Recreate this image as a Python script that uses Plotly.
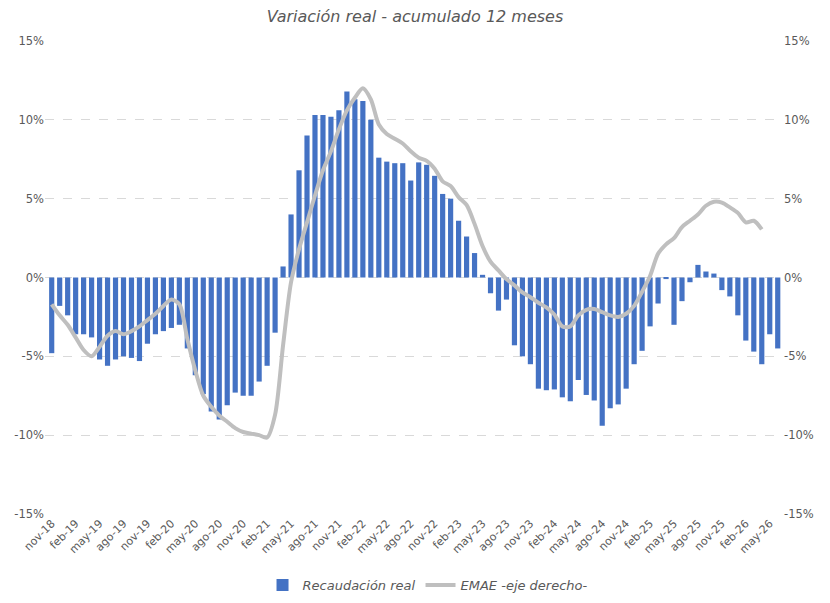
import plotly.graph_objects as go

months_es = ["ene", "feb", "mar", "abr", "may", "jun", "jul", "ago", "sep", "oct", "nov", "dic"]
# Monthly categories nov-18 .. jun-26
categories = []
y, m = 2018, 10
for _ in range(92):
    categories.append(f"{months_es[m]}-{str(y)[2:]}")
    m += 1
    if m == 12:
        m = 0
        y += 1

recaudacion = [
    -4.8, -1.8, -2.4, -3.6, -3.6, -3.8, -5.2, -5.6, -5.2, -5.0,
    -5.1, -5.3, -4.2, -3.6, -3.4, -3.2, -3.0, -4.5, -6.2, -7.4,
    -8.5, -9.0, -8.1, -7.3, -7.5, -7.5, -6.6, -5.6, -3.5, 0.7,
    4.0, 6.8, 9.0, 10.3, 10.3, 10.2, 10.6, 11.8, 11.3, 11.2,
    10.0, 7.6, 7.35, 7.25, 7.25, 6.15, 7.3, 7.15, 6.45, 5.3,
    5.0, 3.6, 2.6, 1.55, 0.17, -1.0, -2.1, -1.4, -4.3, -5.0,
    -5.5, -7.05, -7.15, -7.1, -7.6, -7.85, -6.5, -7.45, -7.8, -9.4,
    -8.3, -8.05, -7.05, -5.5, -4.65, -3.1, -1.65, -0.1, -3.0, -1.5,
    -0.3, 0.8, 0.38, 0.25, -0.8, -1.2, -2.4, -4.0, -4.7, -5.5,
    -3.6, -4.5,
]

emae = [
    -1.7, -2.4, -3.0, -3.8, -4.6, -5.0, -4.4, -3.7, -3.4, -3.6,
    -3.4, -3.1, -2.7, -2.3, -1.8, -1.4, -1.7, -3.9, -5.9, -7.5,
    -8.2, -8.75, -9.15, -9.55, -9.8, -9.9, -10.0, -10.15, -8.7, -4.3,
    -0.3, 1.8, 3.5, 5.2, 6.8, 8.0, 9.4, 10.6, 11.4, 12.0,
    11.3, 9.7, 9.1, 8.8, 8.5, 8.0, 7.6, 7.4, 6.9, 6.1,
    5.8, 5.1, 4.6, 3.4, 2.0, 1.0, 0.45, -0.1, -0.5, -0.95,
    -1.25, -1.6, -1.9, -2.35, -3.1, -3.1, -2.4, -2.05, -2.0, -2.2,
    -2.4, -2.5, -2.3, -1.8, -0.9, 0.1, 1.5, 2.1, 2.5, 3.2,
    3.6, 4.0, 4.55, 4.8, 4.75, 4.45, 4.1, 3.5, 3.6, 3.05,
    None, None,
]

y_ticks = [-15, -10, -5, 0, 5, 10, 15]
y_ticktext = [f"{v}%" for v in y_ticks]

x = list(range(len(categories)))
tickvals = x[::3]
ticktext = categories[::3]

FONT = "DejaVu Sans"
GRAY = "#595959"

fig = go.Figure()
fig.add_trace(go.Bar(
    x=x, y=recaudacion, name="Recaudación real",
    marker=dict(color="#4472C4", line=dict(width=0)),
    yaxis="y",
))
fig.add_trace(go.Scatter(
    x=x, y=emae, name="EMAE -eje derecho-",
    mode="lines", line=dict(color="#BFBFBF", width=4, shape="spline", smoothing=0.8),
    yaxis="y2", connectgaps=False,
))

fig.update_layout(
    width=830, height=603,
    margin=dict(l=45, r=47, t=41, b=89, autoexpand=False),
    plot_bgcolor="white", paper_bgcolor="white",
    bargap=0.35,
    title=dict(text="Variación real - acumulado 12 meses", x=0.5, xanchor="center",
               y=0.972, yanchor="middle",
               font=dict(family=FONT, size=16, color=GRAY, style="italic")),
    xaxis=dict(
        range=[-0.84, 91.66], tickmode="array", tickvals=tickvals, ticktext=ticktext,
        tickangle=-45, tickfont=dict(family=FONT, size=11, color=GRAY),
        showgrid=False, zeroline=False, showline=False, ticks="", automargin=False,
    ),
    yaxis=dict(
        range=[-15, 15], tickmode="array", tickvals=y_ticks, ticktext=y_ticktext,
        tickfont=dict(family=FONT, size=11.5, color=GRAY),
        showgrid=True, gridcolor="#D9D9D9", griddash="dash", gridwidth=1,
        zeroline=False, showline=False, ticks="", automargin=False,
    ),
    yaxis2=dict(
        range=[-15, 15], tickmode="array", tickvals=y_ticks, ticktext=y_ticktext,
        tickfont=dict(family=FONT, size=11.5, color=GRAY),
        overlaying="y", side="right", showgrid=False, zeroline=False, showline=False,
        ticks="", automargin=False,
    ),
    legend=dict(
        orientation="h", x=0.519, xanchor="center", y=-0.15, yanchor="middle",
        font=dict(family=FONT, size=13, color=GRAY, style="italic"),
        bgcolor="rgba(0,0,0,0)", itemwidth=30,
    ),
    showlegend=True,
)

fig.write_html("out.html")
